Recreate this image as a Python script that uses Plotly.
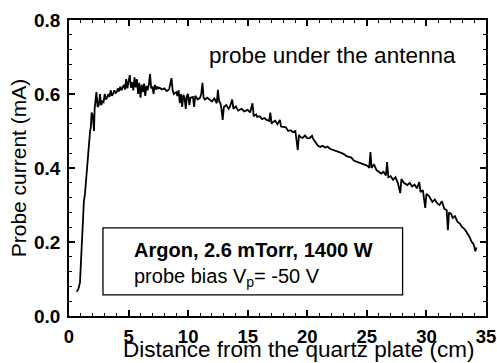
import plotly.graph_objects as go

distance_cm = [
    0.67, 0.8, 0.92, 1.0, 1.09, 1.17, 1.25, 1.34, 1.43, 1.52, 1.6, 1.7, 1.77, 1.83, 1.9, 2.0, 2.1, 2.15, 2.3, 2.4,
    2.5, 2.6, 2.7, 2.8, 2.9, 3.0, 3.1, 3.2, 3.3, 3.4, 3.5, 3.6, 3.7, 3.8, 3.9, 4.0, 4.1, 4.2, 4.3, 4.4,
    4.5, 4.6, 4.7, 4.8, 4.9, 5.0, 5.1, 5.2, 5.3, 5.4, 5.5, 5.6, 5.7, 5.8, 5.9, 6.0, 6.1, 6.2, 6.3, 6.4,
    6.5, 6.6, 6.7, 6.8, 6.9, 7.0, 7.1, 7.2, 7.3, 7.4, 7.5, 7.6, 7.8, 8.0, 8.2, 8.4, 8.6, 8.7, 8.8, 9.0,
    9.1, 9.2, 9.3, 9.4, 9.5, 9.6, 9.7, 9.8, 9.9, 10.0, 10.1, 10.2, 10.4, 10.5, 10.6, 10.8, 11.0, 11.1, 11.2, 11.3,
    11.4, 11.6, 11.8, 12.0, 12.2, 12.4, 12.5, 12.6, 12.7, 12.8, 12.9, 13.0, 13.2, 13.4, 13.5, 13.7, 13.8, 14.0, 14.2, 14.3,
    14.5, 14.7, 15.0, 15.2, 15.4, 15.5, 15.7, 15.8, 16.0, 16.2, 16.4, 16.6, 16.8, 16.9, 17.0, 17.1, 17.3, 17.5, 17.7, 17.8,
    18.0, 18.2, 18.4, 18.6, 18.8, 19.0, 19.2, 19.3, 19.4, 19.6, 19.8, 20.0, 20.2, 20.4, 20.5, 20.7, 20.9, 21.1, 21.3, 21.5,
    21.7, 21.9, 22.1, 22.3, 22.5, 22.7, 22.9, 23.1, 23.3, 23.5, 23.7, 23.9, 24.1, 24.3, 24.5, 24.7, 24.9, 25.1, 25.2, 25.3,
    25.4, 25.6, 25.8, 26.0, 26.2, 26.4, 26.6, 26.7, 26.8, 27.0, 27.2, 27.4, 27.6, 27.8, 27.9, 28.1, 28.4, 28.6, 28.8, 29.0,
    29.2, 29.4, 29.5, 29.7, 29.9, 30.0, 30.2, 30.5, 30.7, 30.9, 31.1, 31.3, 31.5, 31.7, 31.8, 31.9, 32.1, 32.2, 32.4, 32.6,
    32.8, 33.0, 33.2, 33.4, 33.6, 33.8, 33.9, 34.0, 34.1, 34.2,
]

probe_current_mA = [
    0.065, 0.075, 0.09, 0.14, 0.19, 0.27, 0.31, 0.33, 0.37, 0.41, 0.435, 0.48, 0.50, 0.51, 0.55, 0.54, 0.50, 0.56, 0.605, 0.565,
    0.57, 0.60, 0.57, 0.58, 0.578, 0.60, 0.585, 0.59, 0.60, 0.592, 0.61, 0.595, 0.60, 0.61, 0.603, 0.605, 0.615, 0.607, 0.62, 0.61,
    0.616, 0.625, 0.612, 0.64, 0.615, 0.63, 0.651, 0.617, 0.632, 0.61, 0.645, 0.618, 0.64, 0.60, 0.63, 0.59, 0.625, 0.605, 0.628, 0.595,
    0.622, 0.61, 0.625, 0.654, 0.615, 0.62, 0.60, 0.625, 0.612, 0.62, 0.615, 0.617, 0.612, 0.615, 0.608, 0.612, 0.643, 0.61, 0.60, 0.605,
    0.595, 0.61, 0.575, 0.60, 0.565, 0.598, 0.59, 0.56, 0.595, 0.60, 0.57, 0.59, 0.592, 0.565, 0.595, 0.585, 0.59, 0.60, 0.63, 0.59,
    0.585, 0.59, 0.584, 0.58, 0.588, 0.575, 0.611, 0.58, 0.576, 0.56, 0.53, 0.565, 0.57, 0.56, 0.565, 0.585, 0.56, 0.567, 0.555, 0.557,
    0.56, 0.553, 0.557, 0.55, 0.575, 0.54, 0.545, 0.538, 0.54, 0.532, 0.535, 0.53, 0.527, 0.55, 0.52, 0.524, 0.528, 0.518, 0.53, 0.512,
    0.511, 0.51, 0.50, 0.502, 0.497, 0.50, 0.449, 0.49, 0.484, 0.481, 0.488, 0.48, 0.481, 0.487, 0.478, 0.47, 0.46, 0.457, 0.46, 0.455,
    0.458, 0.452, 0.45, 0.448, 0.446, 0.443, 0.44, 0.437, 0.432, 0.43, 0.428, 0.42, 0.418, 0.416, 0.414, 0.41, 0.408, 0.405, 0.40, 0.443,
    0.40, 0.41, 0.395, 0.39, 0.385, 0.39, 0.38, 0.416, 0.375, 0.378, 0.368, 0.375, 0.36, 0.332, 0.37, 0.36, 0.354, 0.36, 0.35, 0.355,
    0.345, 0.362, 0.335, 0.34, 0.292, 0.33, 0.325, 0.308, 0.315, 0.305, 0.30, 0.31, 0.29, 0.286, 0.232, 0.28, 0.275, 0.265, 0.27, 0.255,
    0.25, 0.24, 0.235, 0.225, 0.215, 0.20, 0.197, 0.19, 0.175, 0.185,
]

x_ticks = [0, 5, 10, 15, 20, 25, 30, 35]
y_ticks = [0.0, 0.2, 0.4, 0.6, 0.8]

FONT = "Liberation Sans, Arial, sans-serif"

fig = go.Figure()
fig.add_trace(go.Scatter(
    x=distance_cm, y=probe_current_mA, mode="lines",
    line=dict(color="black", width=1.8), showlegend=False,
))

axis_common = dict(
    showline=True, linecolor="black", linewidth=1.8, mirror="ticks",
    ticks="inside", ticklen=6, tickwidth=1.5, tickcolor="black",
    showgrid=False, zeroline=False, automargin=False,
)

fig.update_xaxes(
    range=[0, 35], tickvals=x_ticks, ticktext=[str(v) for v in x_ticks],
    minor=dict(dtick=1, ticks="inside", ticklen=3.5, tickwidth=1.3, tickcolor="black"),
    ticklabelstandoff=3,
    tickfont=dict(family=FONT, size=18.5, color="black", weight="bold"),
    **axis_common,
)
fig.update_yaxes(
    range=[0, 0.8], tickvals=y_ticks, ticktext=[f"{v:.1f}" for v in y_ticks],
    minor=dict(dtick=0.04, ticks="inside", ticklen=3.5, tickwidth=1.3, tickcolor="black"),
    ticklabelstandoff=3,
    tickfont=dict(family=FONT, size=19, color="black", weight="bold"),
    title=dict(text="Probe current (mA)", font=dict(family=FONT, size=21, color="black"), standoff=2),
    **axis_common,
)

# x-axis title (offset to the right as in the original)
fig.add_annotation(x=0.55, y=-47 / 296, xref="paper", yref="paper", xanchor="center", yanchor="bottom",
                   text="Distance from the quartz plate (cm)", showarrow=False, borderpad=0,
                   font=dict(family=FONT, size=22.5, color="black"))

fig.add_shape(type="rect", xref="x", yref="y", x0=2.85, x1=28.0, y0=0.057, y1=0.238,
              line=dict(color="black", width=1.3), fillcolor="white", layer="above")

fig.add_annotation(x=11.55, y=0.703, xref="x", yref="y", xanchor="left", yanchor="middle",
                   text="probe under the antenna", showarrow=False,
                   font=dict(family=FONT, size=22.5, color="black"))
fig.add_annotation(x=5.3, y=0.178, xref="x", yref="y", xanchor="left", yanchor="middle",
                   text="<b>Argon, 2.6 mTorr, 1400 W</b>", showarrow=False,
                   font=dict(family=FONT, size=20, color="black"))
fig.add_annotation(x=5.3, y=0.105, xref="x", yref="y", xanchor="left", yanchor="middle",
                   text="probe bias V<sub>p</sub>= -50 V", showarrow=False,
                   font=dict(family=FONT, size=20, color="black"))

fig.update_layout(
    width=497, height=363,
    margin=dict(l=69, r=11, t=20, b=47),
    paper_bgcolor="white", plot_bgcolor="white",
    font=dict(family=FONT, color="black"),
)

fig.write_html("out.html")
